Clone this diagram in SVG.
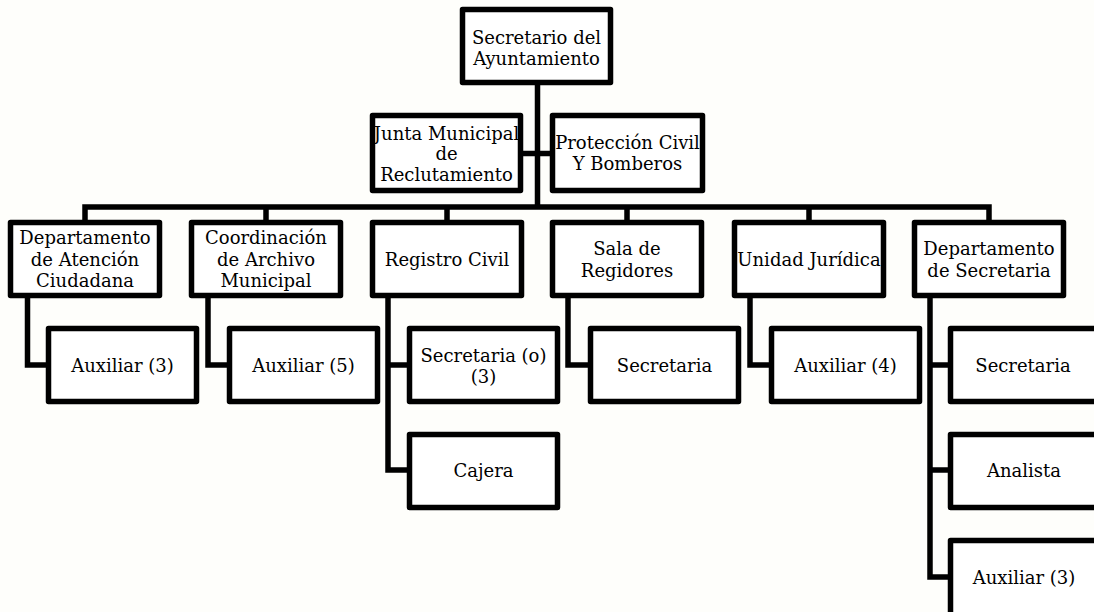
<svg xmlns="http://www.w3.org/2000/svg" width="1094" height="612" viewBox="0 0 1094 612">
<style>
.box{fill:#FFFFFF;stroke:#000;stroke-width:5.5;stroke-linejoin:round}
.ln{fill:none;stroke:#000;stroke-width:5.5;stroke-linejoin:miter}
text{font-family:"DejaVu Serif","Liberation Serif",serif;font-size:18px;fill:#000;text-anchor:middle}
</style>
<rect width="1094" height="612" fill="#FEFEFB"/>
<g id="connectors">
<path class="ln" d="M537.5,85 V207 M523,153.5 H550 M85,220 V207 H989 V220 M266,207 V220 M447,207 V220 M627,207 V220 M809,207 V220"/>
<path class="ln" d="M27.5,298 V365 H48"/>
<path class="ln" d="M208,298 V365 H229"/>
<path class="ln" d="M388,298 V470 H409 M388,365 H409"/>
<path class="ln" d="M568,298 V365 H590"/>
<path class="ln" d="M750,298 V365 H771"/>
<path class="ln" d="M930,298 V577 H950 M930,365 H950 M930,470 H950"/>
</g>
<g id="n-secretario"><rect class="box" x="462.5" y="9.5" width="148" height="73"/><text x="536.5" y="43.5">Secretario del</text><text x="536.5" y="64.5">Ayuntamiento</text></g>
<g id="n-junta"><rect class="box" x="372.5" y="115.5" width="148" height="75"/><text x="446.5" y="139.5">Junta Municipal</text><text x="446.5" y="160">de</text><text x="446.5" y="180.5">Reclutamiento</text></g>
<g id="n-proteccion"><rect class="box" x="552.5" y="115.5" width="150" height="75"/><text x="627.5" y="148.5">Protección Civil</text><text x="627.5" y="170">Y Bomberos</text></g>
<g id="n-atencion"><rect class="box" x="10.5" y="222.5" width="149" height="73"/><text x="85" y="244">Departamento</text><text x="85" y="265.5">de Atención</text><text x="85" y="287">Ciudadana</text></g>
<g id="n-archivo"><rect class="box" x="191.5" y="222.5" width="149" height="73"/><text x="266" y="244">Coordinación</text><text x="266" y="265.5">de Archivo</text><text x="266" y="287">Municipal</text></g>
<g id="n-registro"><rect class="box" x="372.5" y="222.5" width="149" height="73"/><text x="447" y="266">Registro Civil</text></g>
<g id="n-sala"><rect class="box" x="552.5" y="222.5" width="149" height="73"/><text x="627" y="255">Sala de</text><text x="627" y="276.5">Regidores</text></g>
<g id="n-juridica"><rect class="box" x="734.5" y="222.5" width="149" height="73"/><text x="809" y="266">Unidad Jurídica</text></g>
<g id="n-depsec"><rect class="box" x="914.5" y="222.5" width="149" height="73"/><text x="989" y="255">Departamento</text><text x="989" y="276.5">de Secretaria</text></g>
<g id="n-aux3a"><rect class="box" x="48.5" y="328.5" width="148" height="73"/><text x="122.5" y="372">Auxiliar (3)</text></g>
<g id="n-aux5"><rect class="box" x="229.5" y="328.5" width="148" height="73"/><text x="303.5" y="372">Auxiliar (5)</text></g>
<g id="n-secr3"><rect class="box" x="409.5" y="328.5" width="148" height="73"/><text x="483.5" y="361.5">Secretaria (o)</text><text x="483.5" y="382.5">(3)</text></g>
<g id="n-cajera"><rect class="box" x="409.5" y="434.5" width="148" height="73"/><text x="483.5" y="477">Cajera</text></g>
<g id="n-secsala"><rect class="box" x="590.5" y="328.5" width="148" height="73"/><text x="664.5" y="372">Secretaria</text></g>
<g id="n-aux4"><rect class="box" x="771.5" y="328.5" width="148" height="73"/><text x="845.5" y="372">Auxiliar (4)</text></g>
<g id="n-secdep"><rect class="box" x="950.5" y="328.5" width="148" height="73"/><text x="1023" y="372">Secretaria</text></g>
<g id="n-analista"><rect class="box" x="950.5" y="434.5" width="148" height="73"/><text x="1024" y="477">Analista</text></g>
<g id="n-aux3b"><rect class="box" x="950.5" y="540.5" width="148" height="76"/><text x="1024" y="584">Auxiliar (3)</text></g>
</svg>
